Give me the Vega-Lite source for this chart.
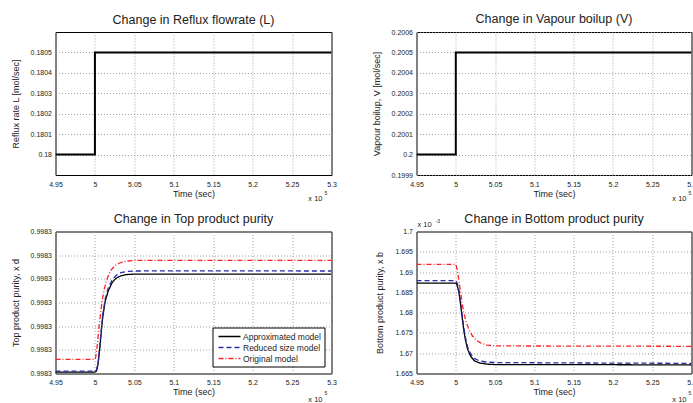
{
  "$schema": "https://vega.github.io/schema/vega-lite/v6.json",
  "background": "white",
  "padding": {"left": 10.5, "top": 12, "right": 0, "bottom": 0},
  "columns": 2,
  "spacing": {"row": 8.5, "column": 34},
  "resolve": {"scale": {"color": "independent", "strokeDash": "independent", "x": "independent", "y": "independent"}},
  "datasets": {
    "reflux": [
      {"t": 495000, "L": 0.18},
      {"t": 500000, "L": 0.1805},
      {"t": 530000, "L": 0.1805}
    ],
    "vapour": [
      {"t": 495000, "V": 0.2},
      {"t": 500000, "V": 0.2005},
      {"t": 530000, "V": 0.2005}
    ],
    "top": [
      {"t": 495000, "model": "Approximated model", "xd": 0.99830006},
      {"t": 500000, "model": "Approximated model", "xd": 0.99830006},
      {"t": 500200, "model": "Approximated model", "xd": 0.9983001},
      {"t": 500400, "model": "Approximated model", "xd": 0.9983004},
      {"t": 500600, "model": "Approximated model", "xd": 0.998301},
      {"t": 500800, "model": "Approximated model", "xd": 0.99830175},
      {"t": 501000, "model": "Approximated model", "xd": 0.9983024},
      {"t": 501300, "model": "Approximated model", "xd": 0.99830305},
      {"t": 501700, "model": "Approximated model", "xd": 0.9983035},
      {"t": 502200, "model": "Approximated model", "xd": 0.99830385},
      {"t": 502700, "model": "Approximated model", "xd": 0.99830403},
      {"t": 503300, "model": "Approximated model", "xd": 0.99830413},
      {"t": 504000, "model": "Approximated model", "xd": 0.99830418},
      {"t": 505000, "model": "Approximated model", "xd": 0.9983042},
      {"t": 530000, "model": "Approximated model", "xd": 0.9983042},
      {"t": 495000, "model": "Reduced size model", "xd": 0.9983001},
      {"t": 500000, "model": "Reduced size model", "xd": 0.9983001},
      {"t": 500200, "model": "Reduced size model", "xd": 0.99830015},
      {"t": 500400, "model": "Reduced size model", "xd": 0.99830045},
      {"t": 500600, "model": "Reduced size model", "xd": 0.9983011},
      {"t": 500800, "model": "Reduced size model", "xd": 0.99830185},
      {"t": 501000, "model": "Reduced size model", "xd": 0.9983025},
      {"t": 501300, "model": "Reduced size model", "xd": 0.99830315},
      {"t": 501700, "model": "Reduced size model", "xd": 0.99830362},
      {"t": 502200, "model": "Reduced size model", "xd": 0.99830397},
      {"t": 502700, "model": "Reduced size model", "xd": 0.99830415},
      {"t": 503300, "model": "Reduced size model", "xd": 0.99830426},
      {"t": 504000, "model": "Reduced size model", "xd": 0.99830431},
      {"t": 505000, "model": "Reduced size model", "xd": 0.99830433},
      {"t": 510000, "model": "Reduced size model", "xd": 0.99830434},
      {"t": 530000, "model": "Reduced size model", "xd": 0.99830433},
      {"t": 495000, "model": "Original model", "xd": 0.9983006},
      {"t": 500000, "model": "Original model", "xd": 0.9983006},
      {"t": 500100, "model": "Original model", "xd": 0.9983007},
      {"t": 500300, "model": "Original model", "xd": 0.9983012},
      {"t": 500500, "model": "Original model", "xd": 0.9983019},
      {"t": 500700, "model": "Original model", "xd": 0.9983025},
      {"t": 500900, "model": "Original model", "xd": 0.99830305},
      {"t": 501200, "model": "Original model", "xd": 0.9983036},
      {"t": 501600, "model": "Original model", "xd": 0.99830405},
      {"t": 502000, "model": "Original model", "xd": 0.99830435},
      {"t": 502500, "model": "Original model", "xd": 0.99830455},
      {"t": 503200, "model": "Original model", "xd": 0.99830468},
      {"t": 504000, "model": "Original model", "xd": 0.99830475},
      {"t": 505000, "model": "Original model", "xd": 0.99830478},
      {"t": 530000, "model": "Original model", "xd": 0.99830478}
    ],
    "bottom": [
      {"t": 495000, "model": "Approximated model", "xb": 0.0016873},
      {"t": 500000, "model": "Approximated model", "xb": 0.0016873},
      {"t": 500200, "model": "Approximated model", "xb": 0.0016866},
      {"t": 500400, "model": "Approximated model", "xb": 0.001685},
      {"t": 500600, "model": "Approximated model", "xb": 0.0016822},
      {"t": 500800, "model": "Approximated model", "xb": 0.001679},
      {"t": 501000, "model": "Approximated model", "xb": 0.001676},
      {"t": 501200, "model": "Approximated model", "xb": 0.0016735},
      {"t": 501500, "model": "Approximated model", "xb": 0.001671},
      {"t": 501900, "model": "Approximated model", "xb": 0.0016692},
      {"t": 502400, "model": "Approximated model", "xb": 0.0016681},
      {"t": 503000, "model": "Approximated model", "xb": 0.0016676},
      {"t": 504000, "model": "Approximated model", "xb": 0.0016673},
      {"t": 505000, "model": "Approximated model", "xb": 0.0016672},
      {"t": 515000, "model": "Approximated model", "xb": 0.0016672},
      {"t": 530000, "model": "Approximated model", "xb": 0.0016671},
      {"t": 495000, "model": "Reduced size model", "xb": 0.0016879},
      {"t": 500000, "model": "Reduced size model", "xb": 0.0016879},
      {"t": 500200, "model": "Reduced size model", "xb": 0.0016872},
      {"t": 500400, "model": "Reduced size model", "xb": 0.0016856},
      {"t": 500600, "model": "Reduced size model", "xb": 0.0016828},
      {"t": 500800, "model": "Reduced size model", "xb": 0.0016796},
      {"t": 501000, "model": "Reduced size model", "xb": 0.0016766},
      {"t": 501200, "model": "Reduced size model", "xb": 0.0016741},
      {"t": 501500, "model": "Reduced size model", "xb": 0.0016716},
      {"t": 501900, "model": "Reduced size model", "xb": 0.0016698},
      {"t": 502400, "model": "Reduced size model", "xb": 0.0016687},
      {"t": 503000, "model": "Reduced size model", "xb": 0.0016681},
      {"t": 504000, "model": "Reduced size model", "xb": 0.0016678},
      {"t": 505000, "model": "Reduced size model", "xb": 0.0016677},
      {"t": 515000, "model": "Reduced size model", "xb": 0.0016676},
      {"t": 530000, "model": "Reduced size model", "xb": 0.0016675},
      {"t": 495000, "model": "Original model", "xb": 0.0016919},
      {"t": 500000, "model": "Original model", "xb": 0.0016919},
      {"t": 500200, "model": "Original model", "xb": 0.0016905},
      {"t": 500400, "model": "Original model", "xb": 0.0016878},
      {"t": 500600, "model": "Original model", "xb": 0.0016852},
      {"t": 500800, "model": "Original model", "xb": 0.0016824},
      {"t": 501000, "model": "Original model", "xb": 0.0016802},
      {"t": 501300, "model": "Original model", "xb": 0.0016778},
      {"t": 501700, "model": "Original model", "xb": 0.0016757},
      {"t": 502100, "model": "Original model", "xb": 0.0016743},
      {"t": 502600, "model": "Original model", "xb": 0.0016732},
      {"t": 503200, "model": "Original model", "xb": 0.0016725},
      {"t": 504000, "model": "Original model", "xb": 0.001672},
      {"t": 505000, "model": "Original model", "xb": 0.0016718},
      {"t": 530000, "model": "Original model", "xb": 0.0016717}
    ],
    "note": [{"a": "x 10", "e": "5", "m": "-3"}]
  },
  "concat": [
    {
      "width": 276, "height": 143,
      "title": {"text": "Change in Reflux flowrate (L)", "offset": 6},
      "layer": [
        {
          "data": {"name": "reflux"},
          "mark": {"type": "line", "interpolate": "step-after", "color": "black", "strokeWidth": 2, "clip": true},
          "encoding": {
            "x": {"field": "t", "type": "quantitative", "title": "Time (sec)",
                  "scale": {"domain": [495000, 530000], "nice": false, "zero": false},
                  "axis": {"values": [495000, 500000, 505000, 510000, 515000, 520000, 525000, 530000], "labelExpr": "format(datum.value/100000, '~g')"}},
            "y": {"field": "L", "type": "quantitative", "title": "Reflux rate L [mol/sec]",
                  "scale": {"domain": [0.1799, 0.1806], "nice": false, "zero": false},
                  "axis": {"values": [0.18, 0.1801, 0.1802, 0.1803, 0.1804, 0.1805], "format": "~g"}}
          }
        },
        {
          "data": {"name": "note"},
          "mark": {"type": "text", "align": "right", "baseline": "middle", "fontSize": 7.5, "dx": -9, "dy": 24, "color": "#222"},
          "encoding": {"x": {"datum": 530000}, "y": {"datum": 0.1799}, "text": {"field": "a"}}
        },
        {
          "data": {"name": "note"},
          "mark": {"type": "text", "align": "left", "baseline": "middle", "fontSize": 5, "dx": -7, "dy": 18, "color": "#222"},
          "encoding": {"x": {"datum": 530000}, "y": {"datum": 0.1799}, "text": {"field": "e"}}
        }
      ]
    },
    {
      "width": 275, "height": 143,
      "title": {"text": "Change in Vapour boilup (V)", "offset": 2.5},
      "layer": [
        {
          "data": {"name": "vapour"},
          "mark": {"type": "line", "interpolate": "step-after", "color": "black", "strokeWidth": 2, "clip": true},
          "encoding": {
            "x": {"field": "t", "type": "quantitative", "title": "Time (sec)",
                  "scale": {"domain": [495000, 530000], "nice": false, "zero": false},
                  "axis": {"values": [495000, 500000, 505000, 510000, 515000, 520000, 525000, 530000], "labelExpr": "format(datum.value/100000, '~g')"}},
            "y": {"field": "V", "type": "quantitative", "title": "Vapour boilup, V [mol/sec]",
                  "scale": {"domain": [0.1999, 0.2006], "nice": false, "zero": false},
                  "axis": {"values": [0.1999, 0.2, 0.2001, 0.2002, 0.2003, 0.2004, 0.2005, 0.2006], "format": "~g"}}
          }
        },
        {
          "data": {"name": "note"},
          "mark": {"type": "text", "align": "right", "baseline": "middle", "fontSize": 7.5, "dx": -5, "dy": 24, "color": "#222"},
          "encoding": {"x": {"datum": 530000}, "y": {"datum": 0.1999}, "text": {"field": "a"}}
        },
        {
          "data": {"name": "note"},
          "mark": {"type": "text", "align": "left", "baseline": "middle", "fontSize": 5, "dx": -3, "dy": 18, "color": "#222"},
          "encoding": {"x": {"datum": 530000}, "y": {"datum": 0.1999}, "text": {"field": "e"}}
        }
      ]
    },
    {
      "width": 276, "height": 142,
      "title": {"text": "Change in Top product purity", "offset": 2.5},
      "layer": [
        {
          "data": {"name": "top"},
          "mark": {"type": "line", "strokeWidth": 1.3, "clip": true},
          "encoding": {
            "x": {"field": "t", "type": "quantitative", "title": "Time (sec)",
                  "scale": {"domain": [495000, 530000], "nice": false, "zero": false},
                  "axis": {"values": [495000, 500000, 505000, 510000, 515000, 520000, 525000, 530000], "labelExpr": "format(datum.value/100000, '~g')"}},
            "y": {"field": "xd", "type": "quantitative", "title": "Top product purity, x d",
                  "scale": {"domain": [0.9983, 0.998306], "nice": false, "zero": false},
                  "axis": {"values": [0.9983, 0.998301, 0.998302, 0.998303, 0.998304, 0.998305, 0.998306], "format": ".4f"}},
            "color": {"field": "model", "type": "nominal", "sort": null,
                      "scale": {"domain": ["Approximated model", "Reduced size model", "Original model"], "range": ["#000000", "#2a2aa8", "#ff2222"]},
                      "legend": {"orient": "bottom-right", "offset": 7, "title": null, "strokeColor": "black", "fillColor": "white", "padding": 3, "labelFontSize": 8.5, "labelColor": "#222", "symbolType": "M-0.6,0H3.8", "symbolSize": 100, "symbolStrokeWidth": 1.3, "rowPadding": 0, "labelOffset": 15.5}},
            "strokeDash": {"field": "model", "type": "nominal", "sort": null,
                      "scale": {"domain": ["Approximated model", "Reduced size model", "Original model"], "range": [[1, 0], [5, 3], [5, 2, 1, 2]]},
                      "legend": {"orient": "bottom-right", "offset": 7, "title": null, "strokeColor": "black", "fillColor": "white", "padding": 3, "labelFontSize": 8.5, "labelColor": "#222", "symbolType": "M-0.6,0H3.8", "symbolSize": 100, "symbolStrokeWidth": 1.3, "rowPadding": 0, "labelOffset": 15.5}}
          }
        },
        {
          "data": {"name": "note"},
          "mark": {"type": "text", "align": "right", "baseline": "middle", "fontSize": 7.5, "dx": -9, "dy": 26, "color": "#222"},
          "encoding": {"x": {"datum": 530000}, "y": {"datum": 0.9983}, "text": {"field": "a"}}
        },
        {
          "data": {"name": "note"},
          "mark": {"type": "text", "align": "left", "baseline": "middle", "fontSize": 5, "dx": -7, "dy": 19, "color": "#222"},
          "encoding": {"x": {"datum": 530000}, "y": {"datum": 0.9983}, "text": {"field": "e"}}
        }
      ]
    },
    {
      "width": 275, "height": 142,
      "title": {"text": "Change in Bottom product purity", "offset": -7},
      "layer": [
        {
          "data": {"name": "bottom"},
          "mark": {"type": "line", "strokeWidth": 1.3, "clip": true},
          "encoding": {
            "x": {"field": "t", "type": "quantitative", "title": "Time (sec)",
                  "scale": {"domain": [495000, 530000], "nice": false, "zero": false},
                  "axis": {"values": [495000, 500000, 505000, 510000, 515000, 520000, 525000, 530000], "labelExpr": "format(datum.value/100000, '~g')"}},
            "y": {"field": "xb", "type": "quantitative", "title": "Bottom product purity, x b",
                  "scale": {"domain": [0.001665, 0.0017], "nice": false, "zero": false},
                  "axis": {"values": [0.001665, 0.00167, 0.001675, 0.00168, 0.001685, 0.00169, 0.001695, 0.0017], "labelExpr": "format(datum.value*1000, '~g')"}},
            "color": {"field": "model", "type": "nominal", "sort": null,
                      "scale": {"domain": ["Approximated model", "Reduced size model", "Original model"], "range": ["#000000", "#2a2aa8", "#ff2222"]},
                      "legend": null},
            "strokeDash": {"field": "model", "type": "nominal", "sort": null,
                      "scale": {"domain": ["Approximated model", "Reduced size model", "Original model"], "range": [[1, 0], [5, 3], [5, 2, 1, 2]]},
                      "legend": null}
          }
        },
        {
          "data": {"name": "note"},
          "mark": {"type": "text", "align": "right", "baseline": "middle", "fontSize": 7.5, "dx": -5, "dy": 26, "color": "#222"},
          "encoding": {"x": {"datum": 530000}, "y": {"datum": 0.001665}, "text": {"field": "a"}}
        },
        {
          "data": {"name": "note"},
          "mark": {"type": "text", "align": "left", "baseline": "middle", "fontSize": 5, "dx": -3, "dy": 19, "color": "#222"},
          "encoding": {"x": {"datum": 530000}, "y": {"datum": 0.001665}, "text": {"field": "e"}}
        },
        {
          "data": {"name": "note"},
          "mark": {"type": "text", "align": "left", "baseline": "middle", "fontSize": 7.5, "dx": 1, "dy": -7, "color": "#222"},
          "encoding": {"x": {"datum": 495000}, "y": {"datum": 0.0017}, "text": {"field": "a"}}
        },
        {
          "data": {"name": "note"},
          "mark": {"type": "text", "align": "left", "baseline": "middle", "fontSize": 5, "dx": 19, "dy": -11, "color": "#222"},
          "encoding": {"x": {"datum": 495000}, "y": {"datum": 0.0017}, "text": {"field": "m"}}
        }
      ]
    }
  ],
  "config": {
    "font": "Liberation Sans",
    "view": {"stroke": "black", "strokeWidth": 1},
    "axis": {
      "domain": false, "grid": true, "gridDash": [1, 2], "gridColor": "#8c8c8c", "gridWidth": 0.8,
      "ticks": false, "tickCount": 50, "labelFontSize": 7, "labelColor": "#222", "labelPadding": 4,
      "titleFontSize": 9, "titleFontWeight": "normal", "titleColor": "#222",
      "labelOverlap": false, "labelFlush": false, "labelBound": false
    },
    "axisX": {"labelPadding": 5, "titlePadding": 2},
    "axisY": {"titlePadding": 10},
    "title": {"fontSize": 12.5, "fontWeight": "normal", "color": "#222"}
  }
}
